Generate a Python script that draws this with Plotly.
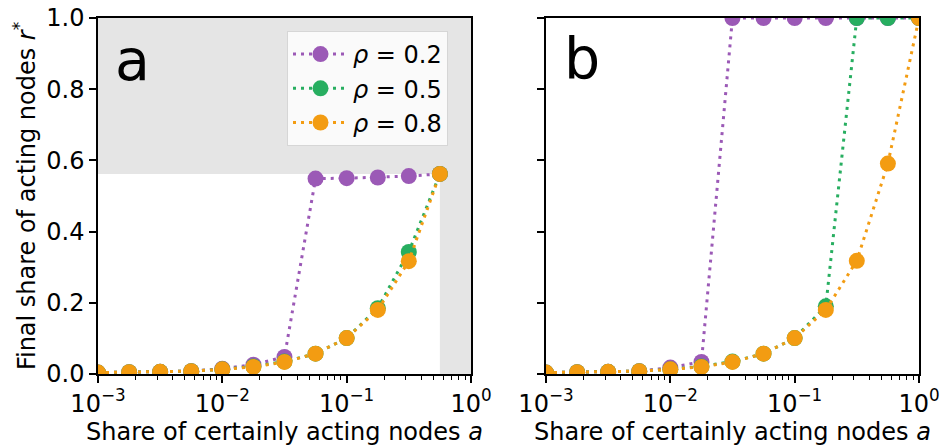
import plotly.graph_objects as go

# ---- data ----
a_vals_a = [0.001, 0.00178, 0.00316, 0.00562, 0.01, 0.0178, 0.0316, 0.0562, 0.1, 0.178, 0.316, 0.562]
a_vals_b = [0.001, 0.00178, 0.00316, 0.00562, 0.01, 0.0178, 0.0316, 0.0562, 0.1, 0.178, 0.316, 0.562, 1.0]

rho_labels = ["0.2", "0.5", "0.8"]
colors = ["#9b59b6", "#27ae60", "#f39c12"]

# panel a
ra_02 = [0.004, 0.005, 0.006, 0.008, 0.015, 0.026, 0.048, 0.549, 0.550, 0.552, 0.556, 0.562]
ra_05 = [0.004, 0.005, 0.006, 0.008, 0.013, 0.021, 0.035, 0.057, 0.101, 0.185, 0.343, 0.562]
ra_08 = [0.004, 0.005, 0.006, 0.008, 0.013, 0.020, 0.034, 0.057, 0.101, 0.180, 0.317, 0.562]
# panel b
rb_02 = [0.004, 0.005, 0.006, 0.008, 0.018, 0.034, 1.0, 1.0, 1.0, 1.0, 1.0, 1.0, 1.0]
rb_05 = [0.004, 0.005, 0.006, 0.008, 0.013, 0.021, 0.035, 0.057, 0.101, 0.190, 1.0, 1.0, 1.0]
rb_08 = [0.004, 0.005, 0.006, 0.008, 0.013, 0.020, 0.034, 0.057, 0.101, 0.180, 0.318, 0.591, 1.0]

x_tickvals = [0.001, 0.01, 0.1, 1]
x_ticktext = ["10<sup>−3</sup>", "10<sup>−2</sup>", "10<sup>−1</sup>", "10<sup>0</sup>"]
y_tickvals = [0.0, 0.2, 0.4, 0.6, 0.8, 1.0]
y_ticktext = ["0.0", "0.2", "0.4", "0.6", "0.8", "1.0"]

FONT = "DejaVu Sans"
FS = 24

fig = go.Figure()

series_a = [ra_02, ra_05, ra_08]
series_b = [rb_02, rb_05, rb_08]
for lab, col, ya in zip(rho_labels, colors, series_a):
    fig.add_trace(go.Scatter(
        x=a_vals_a, y=ya, mode="lines+markers", name="<i>ρ</i> = " + lab,
        line=dict(color=col, width=3, dash="3px,5px"),
        marker=dict(color=col, size=16),
        xaxis="x", yaxis="y", showlegend=True, cliponaxis=True))
for lab, col, yb in zip(rho_labels, colors, series_b):
    fig.add_trace(go.Scatter(
        x=a_vals_b, y=yb, mode="lines+markers", name="<i>ρ</i> = " + lab,
        line=dict(color=col, width=3, dash="3px,5px"),
        marker=dict(color=col, size=16),
        xaxis="x2", yaxis="y2", showlegend=False, cliponaxis=True))

# shaded region in panel a
thr_a = a_vals_a[-1]
thr_r = ra_08[-1]
shade = "#e5e5e5"
fig.add_shape(type="rect", xref="x", yref="y", x0=0.001, x1=1, y0=thr_r, y1=1,
              fillcolor=shade, line_width=0, layer="below")
fig.add_shape(type="rect", xref="x", yref="y", x0=thr_a, x1=1, y0=0, y1=thr_r,
              fillcolor=shade, line_width=0, layer="below")

minor_vals = [m * 10 ** e for e in (-3, -2, -1) for m in range(2, 10)]

xaxis_common = dict(
    type="log", range=[-3, 0], tickvals=x_tickvals, ticktext=x_ticktext,
    ticks="outside", ticklen=7, tickwidth=1.5, tickcolor="black",
    showline=True, linecolor="black", linewidth=1.5, mirror=True,
    showgrid=False, zeroline=False, automargin=False,
    tickfont=dict(family=FONT, size=FS, color="black"),
    minor=dict(tickvals=minor_vals, ticks="outside", ticklen=4, tickwidth=1, tickcolor="black", showgrid=False),
    title=dict(text="Share of certainly acting nodes <i>a</i>", font=dict(family=FONT, size=FS, color="black"), standoff=3),
)
yaxis_common = dict(
    range=[0, 1], tickvals=y_tickvals, ticktext=y_ticktext,
    ticks="outside", ticklen=7, tickwidth=1.5, tickcolor="black",
    showline=True, linecolor="black", linewidth=1.5, mirror=True,
    showgrid=False, zeroline=False, automargin=False,
    tickfont=dict(family=FONT, size=FS, color="black"),
)

bot = (446 - 374) / 446
top = (446 - 18) / 446

fig.update_layout(
    width=943, height=446,
    margin=dict(l=0, r=0, t=0, b=0),
    paper_bgcolor="white", plot_bgcolor="white",
    font=dict(family=FONT, size=FS, color="black"),
    xaxis=dict(domain=[98 / 943, 471 / 943], anchor="y", **xaxis_common),
    xaxis2=dict(domain=[546 / 943, 919 / 943], anchor="y2", **xaxis_common),
    yaxis=dict(domain=[bot, top], anchor="x",
               title=dict(text="Final share of acting nodes <i>r</i><sup>*</sup>",
                          font=dict(family=FONT, size=FS, color="black"), standoff=4),
               **yaxis_common),
    yaxis2=dict(domain=[bot, top], anchor="x2", showticklabels=False, **yaxis_common),
    legend=dict(x=287 / 943, y=(446 - 31) / 446, xanchor="left", yanchor="top",
                bgcolor="rgba(250,250,250,1)", bordercolor="#d6d6d6", borderwidth=1,
                font=dict(family=FONT, size=FS, color="black"), itemwidth=55,
                tracegroupgap=0),
    annotations=[
        dict(text="a", xref="paper", yref="paper", x=132 / 943, y=(446 - 60) / 446,
             xanchor="center", yanchor="middle", showarrow=False,
             font=dict(family=FONT, size=57, color="black")),
        dict(text="b", xref="paper", yref="paper", x=582 / 943, y=(446 - 58) / 446,
             xanchor="center", yanchor="middle", showarrow=False,
             font=dict(family=FONT, size=57, color="black")),
    ],
)

fig.write_html("out.html", config={"displayModeBar": False},
               post_script="document.body.style.margin='0';")
